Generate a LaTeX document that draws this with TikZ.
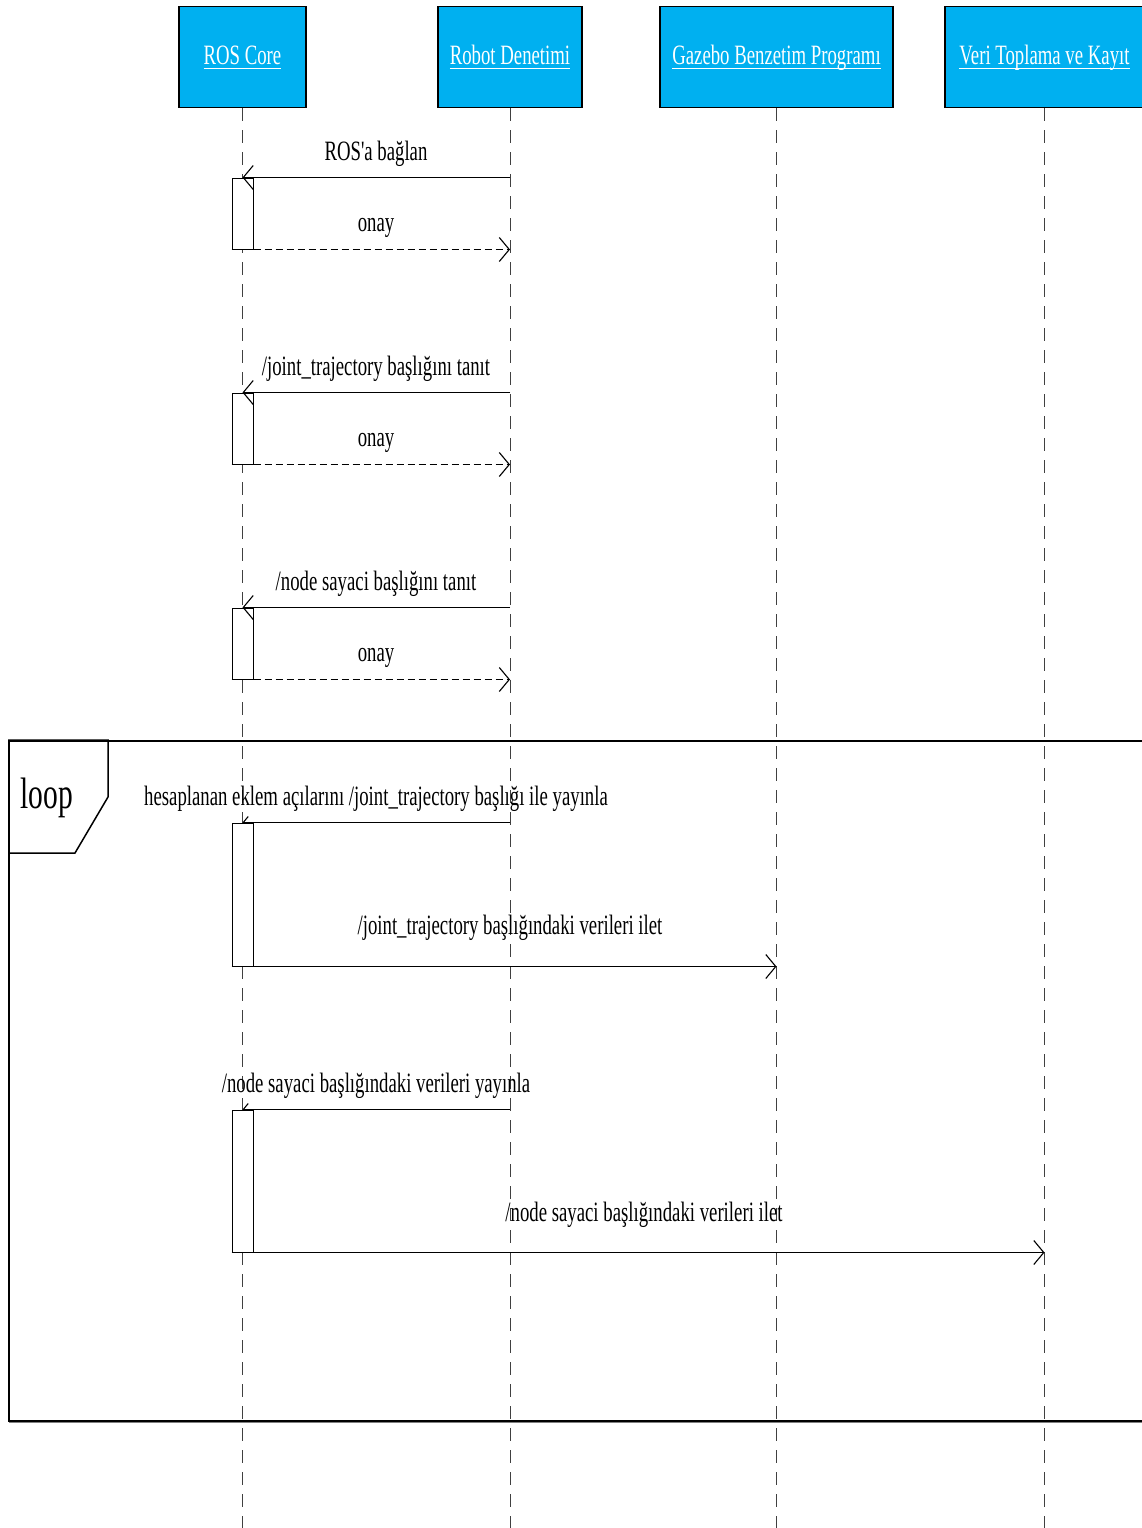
\documentclass[tikz,border=0pt]{standalone}
\usepackage{fontspec}
\newfontfamily\cf[FakeStretch=0.67]{Liberation Serif}
\usetikzlibrary{arrows.meta}
\definecolor{hdrblue}{HTML}{00B0F0}
\definecolor{lifegray}{HTML}{404040}
\newcommand\myul[1]{\setbox0\hbox{#1}\leavevmode\rlap{\rule[-4.5pt]{\wd0}{1.1pt}}\box0}
\pgfdeclarelayer{bg}
\pgfsetlayers{bg,main}
\begin{document}
\begin{tikzpicture}[x=1pt,y=-1pt,
  font=\cf\fontsize{28}{32}\selectfont,
  hdr/.style={draw=black, line width=1.2pt, fill=hdrblue, minimum height=101pt,
    inner sep=0pt, anchor=north, text=white, text height=22pt, text depth=7pt},
  life/.style={draw=lifegray, line width=1pt, dash pattern=on 13pt off 9pt},
  actbar/.style={draw=black, fill=white, line width=1pt, minimum width=21pt, inner sep=0pt},
  msg/.style={draw=black, line width=1.2pt, -{Straight Barb[length=10pt,width=24pt,line width=1.1pt]}},
  rep/.style={msg, dash pattern=on 7pt off 4pt},
  smallmsg/.style={draw=black, line width=1.2pt, -{Straight Barb[length=5pt,width=12pt,line width=1.1pt]}},
  lbl/.style={anchor=base, inner sep=0pt}]
\useasboundingbox (0,0) rectangle (1142,1528);
\coordinate (bottom) at (0,1528);
% headers
\node[hdr, minimum width=127pt] (rc) at (242.5,6) {\myul{ROS Core}};
\node[hdr, minimum width=144pt] (rd) at (510,6) {\myul{Robot Denetimi}};
\node[hdr, minimum width=233pt] (gz) at (776.5,6) {\myul{Gazebo Benzetim Programı}};
\node[hdr, minimum width=199pt] (vt) at (1044.5,6) {\myul{Veri Toplama ve Kayıt}};
% activation bars
\node[actbar, minimum height=71pt] (b1) at (242.5,213.5) {};
\node[actbar, minimum height=71pt] (b2) at (242.5,428.5) {};
\node[actbar, minimum height=71pt] (b3) at (242.5,643.5) {};
\node[actbar, minimum height=143pt] (b4) at (242.5,894.5) {};
\node[actbar, minimum height=142pt] (b5) at (242.5,1181) {};
\begin{pgfonlayer}{bg}
  \draw[life] (rc.south) -- (rc.south |- bottom);
  \draw[life] (rd.south) -- (rd.south |- bottom);
  \draw[life] (gz.south) -- (gz.south |- bottom);
  \draw[life] (vt.south) -- (vt.south |- bottom);
  \draw[smallmsg] (rd.south |- b4.north) -- (b4.north);
  \draw[smallmsg] (rd.south |- b5.north) -- (b5.north);
\end{pgfonlayer}
% messages
\draw[msg] (rd.south |- b1.north) -- (b1.north);
\node[lbl] (l1) at (376,160) {ROS'a bağlan};
\draw[rep] (b1.south west) -- (rd.south |- b1.south);
\node[lbl] (l2) at (376,231) {onay};
\draw[msg] (rd.south |- b2.north) -- (b2.north);
\node[lbl] (l3) at (376,375) {/joint\_trajectory başlığını tanıt};
\draw[rep] (b2.south west) -- (rd.south |- b2.south);
\node[lbl] (l4) at (376,446) {onay};
\draw[msg] (rd.south |- b3.north) -- (b3.north);
\node[lbl] (l5) at (376,590) {/node sayaci başlığını tanıt};
\draw[rep] (b3.south west) -- (rd.south |- b3.south);
\node[lbl] (l6) at (376,661) {onay};
% loop frame
\node[draw=black, line width=2pt, minimum width=1160pt, minimum height=680pt,
  inner sep=0pt, anchor=north west] (loopframe) at (8,740) {};
\draw[gray, line width=1pt] (9,1422.5) -- (1160,1422.5);
\draw[line width=1.5pt] (loopframe.north west) -- (108,740) -- (108,797) -- (75,853) -- (8,853);
\node[lbl, font=\cf\fontsize{44}{48}\selectfont] (looplbl) at (47,808) {loop};
\node[lbl] (l7) at (376,805) {hesaplanan eklem açılarını /joint\_trajectory başlığı ile yayınla};
\draw[msg] (b4.south west) -- (gz.south |- b4.south);
\node[lbl] (l8) at (510,934) {/joint\_trajectory başlığındaki verileri ilet};
\node[lbl] (l9) at (376,1092) {/node sayaci başlığındaki verileri yayınla};
\draw[msg] (b5.south west) -- (vt.south |- b5.south);
\node[lbl] (l10) at (644,1221) {/node sayaci başlığındaki verileri ilet};
\end{tikzpicture}
\end{document}
